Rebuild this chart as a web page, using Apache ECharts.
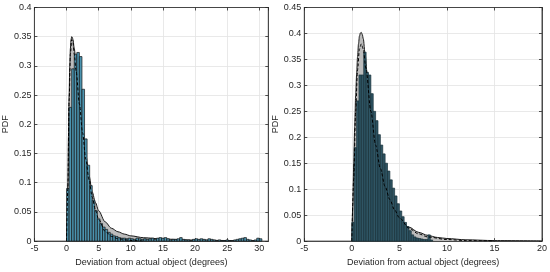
<!DOCTYPE html>
<html>
<head>
<meta charset="utf-8">
<script src="https://cdn.jsdelivr.net/npm/echarts@6/dist/echarts.min.js"></script>
<style>
  html, body { margin: 0; padding: 0; background: #fff; }
  #chart { width: 550px; height: 272px; }
</style>
</head>
<body>
<div id="chart"></div>
<script>
// histogram bins (left panel: width 0.4, right panel: width 0.25), values are PDF
const leftBinWidth = 0.4
const leftBins = [
  0.09, 0.229, 0.295, 0.32, 0.323, 0.316, 0.26, 0.175, 0.13, 0.095,
  0.07, 0.052, 0.038, 0.03, 0.024, 0.02, 0.015, 0.012, 0.009, 0.008,
  0.006, 0.005, 0.005, 0.004, 0.005,
  0.004, 0.003, 0.005, 0.004, 0.003,
  0.004, 0.003, 0.004, 0.005, 0.003,
  0.005, 0.006, 0.005, 0.006, 0.004,
  0.002, 0.003, 0.003, 0.004, 0.006,
  0.003, 0.002, 0.002, 0.001, 0.003,
  0.004, 0.003, 0.004, 0.003, 0.002,
  0.004, 0.003, 0.002, 0.001, 0.002,
  0.001, 0.001, 0.002, 0.001, 0.001,
  0.002, 0.003, 0.004, 0.005, 0.006,
  0.003, 0.002, 0.001, 0.002, 0.005,
  0.004
]
const rightBinWidth = 0.25
const rightBins = [
  0.036, 0.18, 0.27, 0.32, 0.32, 0.364, 0.325, 0.32, 0.284, 0.25,
  0.232, 0.205, 0.185, 0.168, 0.15, 0.135, 0.118, 0.102, 0.087, 0.072,
  0.058, 0.047, 0.036, 0.028, 0.02, 0.012, 0.008, 0.006, 0.005, 0.004,
  0.003, 0.003, 0.012, 0.002
]

// fitted curves: [x, pdf]
const leftFit = [
  [0, 0], [0.1, 0.04], [0.2, 0.1], [0.3, 0.18], [0.4, 0.25], [0.5, 0.3], [0.6, 0.33],
  [0.7, 0.345], [0.8, 0.35], [0.9, 0.349], [1.0, 0.345], [1.2, 0.33], [1.5, 0.3],
  [2.0, 0.245], [2.5, 0.195], [3.0, 0.148], [3.5, 0.112], [4.0, 0.084], [4.5, 0.066],
  [5.0, 0.052], [6.0, 0.033], [7.0, 0.022], [8.0, 0.016], [9.0, 0.012], [10, 0.009],
  [12, 0.0058], [15, 0.0035], [20, 0.0017], [25, 0.001], [30, 0.0006]
]
const leftDashed = [
  [0, 0], [0.2, 0.09], [0.4, 0.24], [0.6, 0.32], [0.8, 0.345], [1.0, 0.34], [1.2, 0.32],
  [1.5, 0.29], [2.0, 0.235], [2.5, 0.185], [3.0, 0.14], [3.5, 0.105], [4.0, 0.075],
  [4.5, 0.053], [5.0, 0.037], [6.0, 0.017], [7.0, 0.008], [8.0, 0.004], [10, 0.001], [12, 0]
]
const rightFit = [
  [0, 0], [0.1, 0.07], [0.2, 0.15], [0.3, 0.22], [0.4, 0.28], [0.5, 0.32], [0.6, 0.355],
  [0.7, 0.38], [0.8, 0.395], [0.9, 0.401], [1.0, 0.402], [1.1, 0.398], [1.2, 0.39],
  [1.4, 0.36], [1.6, 0.325], [1.8, 0.29], [2.0, 0.255], [2.5, 0.185], [3.0, 0.135],
  [3.5, 0.1], [4.0, 0.075], [4.5, 0.057], [5.0, 0.044], [6.0, 0.027], [7.0, 0.017],
  [8.0, 0.011], [9.0, 0.007], [10, 0.005], [12, 0.0025], [15, 0.001], [20, 0.0003]
]
const rightDashed = [
  [0, 0], [0.2, 0.12], [0.4, 0.25], [0.6, 0.33], [0.8, 0.37], [1.0, 0.38], [1.2, 0.37],
  [1.5, 0.33], [2.0, 0.25], [2.5, 0.185], [3.0, 0.14], [3.5, 0.105], [4.0, 0.08],
  [4.5, 0.06], [5.0, 0.045], [6.0, 0.025], [7.0, 0.014], [8.0, 0.008], [10, 0.003],
  [12, 0.001], [15, 0]
]

const xTitle = 'Deviation from actual object (degrees)'
const yTitle = 'PDF'

const chart = echarts.init(document.getElementById('chart'), null, { renderer: 'canvas' })

const axisColor = '#262626'
const gridColor = '#e3e3e3'
const font = 'Liberation Sans'

function xAxisOf(gridIndex, min, max, bottom, showMax) {
  return {
    type: 'value',
    gridIndex: gridIndex,
    position: bottom ? 'bottom' : 'top',
    min: min,
    max: max,
    interval: 5,
    name: bottom ? xTitle : '',
    nameLocation: 'middle',
    nameGap: 11,
    nameTextStyle: { fontSize: 9, color: axisColor, fontFamily: font },
    axisLine: { show: true, onZero: false, lineStyle: { color: axisColor, width: 0.8 } },
    axisTick: { show: true, inside: true, length: 3, lineStyle: { color: axisColor, width: 0.8 } },
    axisLabel: {
      show: bottom, margin: 3, fontSize: 9, color: axisColor, fontFamily: font,
      showMaxLabel: showMax
    },
    splitLine: { show: bottom, lineStyle: { color: gridColor, width: 0.8 } }
  }
}

function yAxisOf(gridIndex, max, left, gap) {
  return {
    type: 'value',
    gridIndex: gridIndex,
    position: left ? 'left' : 'right',
    min: 0,
    max: max,
    interval: 0.05,
    name: left ? yTitle : '',
    nameLocation: 'middle',
    nameGap: gap,
    nameTextStyle: { fontSize: 9, color: axisColor, fontFamily: font },
    axisLine: { show: true, onZero: false, lineStyle: { color: axisColor, width: 0.8 } },
    axisTick: { show: true, inside: true, length: 3, lineStyle: { color: axisColor, width: 0.8 } },
    axisLabel: { show: left, margin: 3, fontSize: 9, color: axisColor, fontFamily: font },
    splitLine: { show: left, lineStyle: { color: gridColor, width: 0.8 } }
  }
}

function histSeries(xi, yi, bins, width, fill, stroke) {
  return {
    type: 'custom',
    xAxisIndex: xi,
    yAxisIndex: yi,
    z: 3,
    data: bins.map((v, i) => [i * width, v]),
    encode: { x: 0, y: 1 },
    renderItem: function (params, api) {
      const x0 = api.value(0)
      const h = api.value(1)
      const p0 = api.coord([x0, h])
      const p1 = api.coord([x0 + width, 0])
      return {
        type: 'rect',
        shape: { x: p0[0], y: p0[1], width: p1[0] - p0[0], height: p1[1] - p0[1] },
        style: { fill: fill, stroke: stroke, lineWidth: 0.7 }
      }
    }
  }
}

function areaSeries(xi, yi, data) {
  return {
    type: 'line',
    xAxisIndex: xi,
    yAxisIndex: yi,
    z: 2,
    data: data,
    symbol: 'none',
    smooth: 0.3,
    smoothMonotone: 'x',
    lineStyle: { color: '#1a1a1a', width: 1 },
    areaStyle: { color: '#bcbcbc', opacity: 1 }
  }
}

function dashedSeries(xi, yi, data) {
  return {
    type: 'line',
    xAxisIndex: xi,
    yAxisIndex: yi,
    z: 4,
    data: data,
    symbol: 'none',
    smooth: 0.3,
    smoothMonotone: 'x',
    lineStyle: { color: '#000', width: 1, type: [3, 2] }
  }
}

const option = {
  animation: false,
  backgroundColor: '#fff',
  textStyle: { fontFamily: font },
  grid: [
    { left: 28.5, top: 7.5, width: 239.8, height: 240, show: true, borderColor: axisColor, borderWidth: 0.8 },
    { left: 304.3, top: 7.5, width: 239, height: 240, show: true, borderColor: axisColor, borderWidth: 0.8 }
  ],
  xAxis: [
    xAxisOf(0, -5, 31.4, true, false),
    xAxisOf(0, -5, 31.4, false, false),
    xAxisOf(1, -5, 20, true, true),
    xAxisOf(1, -5, 20, false, true)
  ],
  yAxis: [
    yAxisOf(0, 0.4, true, 19),
    yAxisOf(0, 0.4, false, 0),
    yAxisOf(1, 0.45, true, 21),
    yAxisOf(1, 0.45, false, 0)
  ],
  series: [
    areaSeries(0, 0, leftFit),
    histSeries(0, 0, leftBins, leftBinWidth, '#4b94b0', '#151515'),
    dashedSeries(0, 0, leftDashed),
    areaSeries(2, 2, rightFit),
    histSeries(2, 2, rightBins, rightBinWidth, '#2f5564', '#18303a'),
    dashedSeries(2, 2, rightDashed)
  ]
}

chart.setOption(option)
</script>
</body>
</html>
